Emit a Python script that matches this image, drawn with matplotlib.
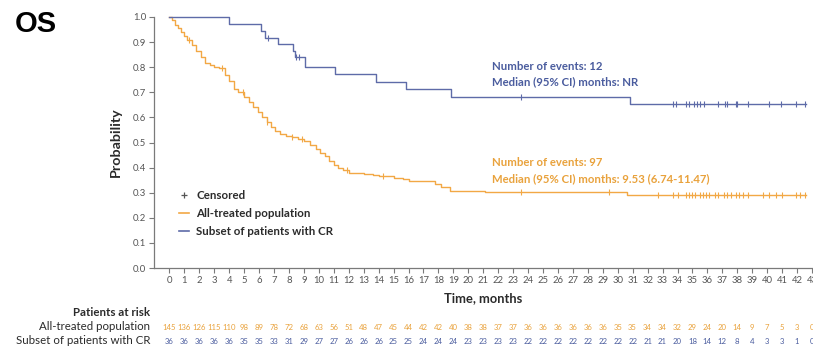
import matplotlib
matplotlib.use("Agg")
import matplotlib.pyplot as plt
from matplotlib.lines import Line2D
import matplotlib.transforms as mtransforms
import numpy as np

# ---- Kaplan-Meier estimates (months, survival probability) ----
# All-treated population
all_times = [0, 0.2, 0.4, 0.6, 0.8, 1.0, 1.2, 1.5, 1.8, 2.1, 2.4, 2.7, 3.0, 3.3,
             3.7, 4.0, 4.3, 4.6, 5.0, 5.3, 5.6, 5.9, 6.2, 6.5, 6.8, 7.1, 7.4,
             7.8, 8.2, 8.6, 9.0, 9.4, 9.8, 10.1, 10.4, 10.7, 11.0, 11.3, 11.6,
             12.0, 13.0, 13.6, 14.0, 15.0, 15.6, 16.0, 17.8, 18.2, 18.8, 21.1,
             30.6, 42.6]
all_surv = [1.0, 0.99, 0.97, 0.955, 0.94, 0.925, 0.91, 0.89, 0.865, 0.84, 0.815,
            0.81, 0.80, 0.795, 0.77, 0.745, 0.715, 0.70, 0.68, 0.66, 0.64, 0.62,
            0.60, 0.58, 0.56, 0.545, 0.535, 0.525, 0.52, 0.515, 0.505, 0.49,
            0.475, 0.46, 0.445, 0.425, 0.41, 0.40, 0.39, 0.38, 0.375, 0.37,
            0.365, 0.36, 0.355, 0.345, 0.335, 0.324, 0.308, 0.301, 0.291, 0.291]
all_censor_t = [1.3, 3.5, 4.9, 6.5, 8.2, 8.9, 11.9, 14.3, 23.5, 29.4, 32.7, 33.7,
                34.0, 34.6, 34.8, 35.0, 35.2, 35.5, 35.7, 35.9, 36.1, 36.5, 36.7,
                37.1, 37.3, 37.6, 37.9, 38.1, 38.4, 38.7, 39.7, 40.1, 40.6, 41.0,
                41.9, 42.2, 42.5]

# Subset of patients with CR
cr_times = [0, 4.0, 6.15, 6.4, 7.3, 8.3, 8.4, 9.1, 11.1, 13.85, 15.85, 18.85,
            30.8, 42.6]
cr_surv = [1.0, 0.972, 0.944, 0.917, 0.893, 0.866, 0.84, 0.80, 0.773, 0.742,
           0.712, 0.681, 0.652, 0.652]
cr_censor_t = [6.6, 8.5, 8.7, 23.5, 33.7, 33.9, 34.6, 34.8, 35.1, 35.3, 35.5,
               35.8, 36.7, 37.2, 37.3, 37.9, 38.0, 38.7, 40.1, 40.9, 41.9, 42.5]

# ---- Numbers at risk ----
risk_months = list(range(0, 44))
risk_all = [145, 136, 126, 115, 110, 98, 89, 78, 72, 68, 63, 56, 51, 48, 47, 45,
            44, 42, 42, 40, 38, 38, 37, 37, 36, 36, 36, 36, 36, 36, 35, 35, 34,
            34, 32, 29, 24, 20, 14, 9, 7, 5, 3, 0]
risk_cr = [36, 36, 36, 36, 36, 35, 35, 33, 31, 29, 27, 27, 26, 26, 26, 25, 25,
           24, 24, 24, 23, 23, 23, 23, 22, 22, 22, 22, 22, 22, 22, 22, 21, 21,
           20, 18, 14, 12, 8, 4, 3, 3, 1, 0]

ORANGE = "#F2A845"
ORANGE_TXT = "#E9A23C"
BLUE = "#5E6BA8"
BLUE_TXT = "#4A5C9E"
DARK = "#2b2b2b"

FONT = ["Lato", "DejaVu Sans"]
plt.rcParams["font.family"] = FONT

W, H = 813, 349
fig = plt.figure(figsize=(W / 100, H / 100), dpi=100)
ax_l, ax_r, ax_b, ax_t = 154, 812, 268, 17
ax = fig.add_axes([ax_l / W, 1 - ax_b / H, (ax_r - ax_l) / W, (ax_b - ax_t) / H])


def step_value(times, surv, t):
    idx = np.searchsorted(times, t, side="right") - 1
    return np.asarray(surv)[idx]


ax.step(all_times, all_surv, where="post", color=ORANGE, lw=1.0, clip_on=False, zorder=3)
ax.step(cr_times, cr_surv, where="post", color=BLUE, lw=1.0, clip_on=False, zorder=3)
ax.plot(all_censor_t, step_value(all_times, all_surv, all_censor_t), ls="none",
        marker="|", ms=4.5, mew=0.8, color=ORANGE, clip_on=False, zorder=4)
ax.plot(cr_censor_t, step_value(cr_times, cr_surv, cr_censor_t), ls="none",
        marker="|", ms=4.5, mew=0.8, color=BLUE, clip_on=False, zorder=4)

ax.set_xlim(-1.03, 43.0)
ax.set_ylim(0, 1.0)
ax.set_xticks(risk_months)
ax.set_xticklabels([str(m) for m in risk_months])
ax.set_yticks(np.round(np.arange(0, 1.01, 0.1), 1))
ax.set_yticklabels([f"{v:.1f}" for v in np.arange(0, 1.01, 0.1)])
for s in ("top", "right"):
    ax.spines[s].set_visible(False)
for s in ("left", "bottom"):
    ax.spines[s].set_color("#7a7a7a")
    ax.spines[s].set_linewidth(0.9)
ax.tick_params(axis="both", colors="#7a7a7a", labelcolor="#555555",
               labelsize=6.8, length=3.5, width=0.8, pad=2)

ax.set_ylabel("Probability", fontsize=10.3, fontweight="bold", color=DARK, labelpad=8)
ax.set_xlabel("Time, months", fontsize=9.3, fontweight="bold", color=DARK, labelpad=5)

# Event summaries
TXT = 8.2
ax.text(21.6, (268 - 66) / 251, "Number of events: 12", color=BLUE_TXT,
        fontsize=TXT, fontweight="bold", va="center", ha="left")
ax.text(21.6, (268 - 82) / 251, "Median (95% CI) months: NR", color=BLUE_TXT,
        fontsize=TXT, fontweight="bold", va="center", ha="left")
ax.text(21.6, (268 - 163) / 251, "Number of events: 97", color=ORANGE_TXT,
        fontsize=TXT, fontweight="bold", va="center", ha="left")
ax.text(21.6, (268 - 178.5) / 251, "Median (95% CI) months: 9.53 (6.74-11.47)",
        color=ORANGE_TXT, fontsize=TXT, fontweight="bold", va="center", ha="left")

# Legend
handles = [
    Line2D([], [], ls="none", marker="+", ms=5, mew=0.9, color="#555555"),
    Line2D([], [], color=ORANGE, lw=1.2),
    Line2D([], [], color=BLUE, lw=1.2),
]
labels = ["Censored", "All-treated population", "Subset of patients with CR"]
leg = fig.legend(handles, labels, loc="upper left",
                 bbox_to_anchor=(179 / W, 1 - 190 / H), frameon=False,
                 prop={"family": FONT, "weight": "bold", "size": 8.3},
                 handlelength=0.9, handletextpad=0.6, labelspacing=0.6,
                 borderpad=0, borderaxespad=0)
for t in leg.get_texts():
    t.set_color(DARK)

# Title
fig.text(15 / W, 1 - 24 / H, "OS", fontsize=21, fontweight="bold",
         family=["Liberation Sans", "DejaVu Sans"], color="black", va="center", ha="left")

# Numbers at risk table
fig.text(150 / W, 1 - 313 / H, "Patients at risk", fontsize=8.3, fontweight="bold",
         color=DARK, ha="right", va="center")
fig.text(150 / W, 1 - 327 / H, "All-treated population", fontsize=8.3,
         color=DARK, ha="right", va="center")
fig.text(150 / W, 1 - 341 / H, "Subset of patients with CR", fontsize=8.3,
         color=DARK, ha="right", va="center")
trans = mtransforms.blended_transform_factory(ax.transData, fig.transFigure)
for m, a, c in zip(risk_months, risk_all, risk_cr):
    ax.text(m, 1 - 327 / H, str(a), transform=trans, fontsize=5.6, color=ORANGE_TXT,
            ha="center", va="center", clip_on=False)
    ax.text(m, 1 - 341 / H, str(c), transform=trans, fontsize=5.6, color=BLUE_TXT,
            ha="center", va="center", clip_on=False)

fig.savefig("out.png", dpi=100, facecolor="white")
